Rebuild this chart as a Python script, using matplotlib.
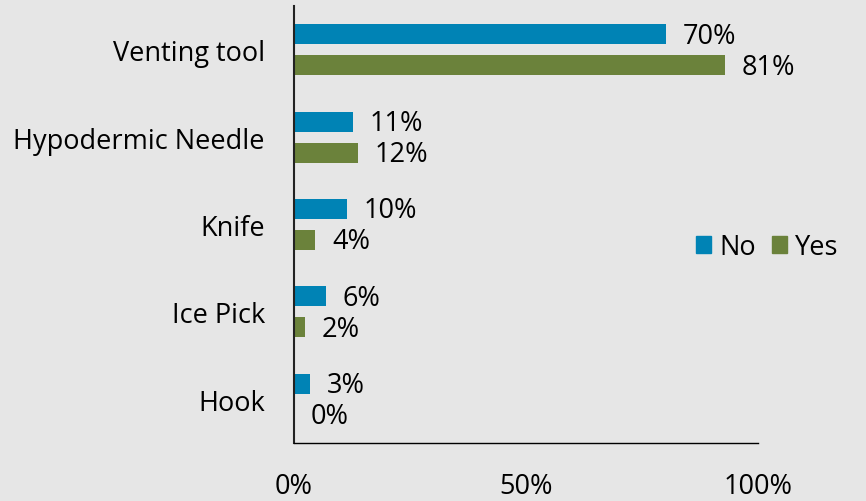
import matplotlib.pyplot as plt
from matplotlib.patches import Patch
import numpy as np

plt.rcParams['font.family'] = ['Open Sans', 'DejaVu Sans']

# data
categories = ["Venting tool", "Hypodermic Needle", "Knife", "Ice Pick", "Hook"]
no_vals = [70, 11, 10, 6, 3]
yes_vals = [81, 12, 4, 2, 0]
tick_labels = ["0%", "50%", "100%"]

BG = "#E6E6E6"
BLUE = "#0083B5"
GREEN = "#6B823B"
FS = 19.5

fig = plt.figure(figsize=(8.66, 5.02), dpi=100, facecolor=BG)
ax = fig.add_axes([294 / 866, 1 - 444 / 502, 464 / 866, 437 / 502])
ax.set_facecolor(BG)

y = np.arange(len(categories))
h = 0.23
off = 0.177
ax.barh(y - off, no_vals, height=h, color=BLUE, label="No")
ax.barh(y + off, yes_vals, height=h, color=GREEN, label="Yes")

for yy, v in zip(y - off, no_vals):
    ax.annotate(f"{v}%", (v, yy), xytext=(12, -1), textcoords="offset points",
                va="center", ha="left", fontsize=FS)
for yy, v in zip(y + off, yes_vals):
    ax.annotate(f"{v}%", (v, yy), xytext=(12, -1), textcoords="offset points",
                va="center", ha="left", fontsize=FS)

xmax = 87.2
ax.set_xlim(0, xmax)
ax.set_ylim(len(categories) - 0.5, -0.5)
ax.set_yticks(y)
ax.set_yticklabels(categories, fontsize=FS)
ax.set_xticks([0, xmax / 2, xmax])
ax.set_xticklabels(tick_labels, fontsize=FS)
ax.tick_params(axis="y", length=0, pad=21)
ax.tick_params(axis="x", length=0, pad=21)

for s in ["top", "right"]:
    ax.spines[s].set_visible(False)
ax.spines["left"].set_color("#222222")
ax.spines["left"].set_linewidth(1.5)
ax.spines["bottom"].set_color("black")
ax.spines["bottom"].set_linewidth(1.0)

handles = [Patch(color=BLUE, label="No"), Patch(color=GREEN, label="Yes")]
fig.legend(handles=handles, loc="center left", bbox_to_anchor=(696 / 866, 1 - 248 / 502),
           ncol=2, frameon=False, fontsize=FS, handlelength=0.55, handleheight=0.55,
           handletextpad=0.3, columnspacing=0.6, borderpad=0, borderaxespad=0)

fig.savefig("out.png", dpi=100, facecolor=BG)
